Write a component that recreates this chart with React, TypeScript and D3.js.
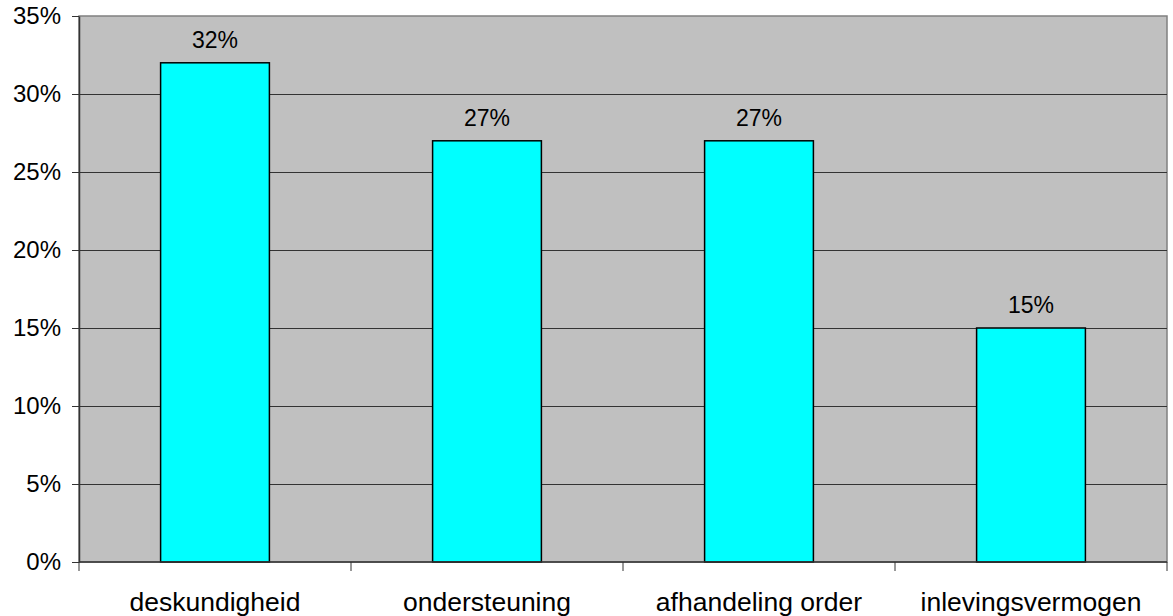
import React, { useEffect, useRef } from "react";
import * as d3 from "d3";

const categories = ["deskundigheid", "ondersteuning", "afhandeling order", "inlevingsvermogen"];
const values = [32, 27, 27, 15];
const yTicks = [0, 5, 10, 15, 20, 25, 30, 35];

function BarChart() {
  const ref = useRef<SVGSVGElement | null>(null);
  const width = 1173;
  const height = 616;
  const marginTop = 16;
  const marginRight = 6;
  const marginBottom = 54;
  const marginLeft = 79;

  useEffect(() => {
    const svg = d3.select(ref.current);
    svg.selectAll("*").remove();

    const x = d3.scaleBand<string>()
      .domain(categories)
      .range([marginLeft, width - marginRight])
      .padding(0);

    const y = d3.scaleLinear([0, 35], [height - marginBottom, marginTop]);

    const font = "'Liberation Sans', Arial, sans-serif";

    // plot background
    svg.append("rect")
      .attr("x", marginLeft)
      .attr("y", marginTop)
      .attr("width", width - marginLeft - marginRight)
      .attr("height", height - marginTop - marginBottom)
      .attr("fill", "#c0c0c0")
      .attr("stroke", "#808080")
      .attr("stroke-width", 1.5);

    // gridlines
    svg.append("g")
      .selectAll("line")
      .data(yTicks.filter(d => d > 0 && d < 35))
      .join("line")
      .attr("x1", marginLeft)
      .attr("x2", width - marginRight)
      .attr("y1", d => Math.round(y(d)) + 0.5)
      .attr("y2", d => Math.round(y(d)) + 0.5)
      .attr("stroke", "#333")
      .attr("stroke-width", 1);

    // bars
    const barW = x.bandwidth() * 0.4;
    svg.append("g")
      .selectAll("rect")
      .data(values)
      .join("rect")
      .attr("x", (d, i) => x(categories[i])! + (x.bandwidth() - barW) / 2)
      .attr("y", d => y(d))
      .attr("width", barW)
      .attr("height", d => y(0) - y(d))
      .attr("fill", "#00ffff")
      .attr("stroke", "#000")
      .attr("stroke-width", 1.5);

    // value labels
    svg.append("g")
      .selectAll("text")
      .data(values)
      .join("text")
      .attr("x", (d, i) => x(categories[i])! + x.bandwidth() / 2)
      .attr("y", d => y(d) - 15)
      .attr("text-anchor", "middle")
      .attr("font-family", font)
      .attr("font-size", 23)
      .attr("fill", "#000")
      .text(d => `${d}%`);

    // y axis
    const yAxis = svg.append("g")
      .attr("transform", `translate(${marginLeft},0)`)
      .call(d3.axisLeft(y).tickValues(yTicks).tickFormat(d => `${d}%`).tickSize(7).tickSizeOuter(0));
    yAxis.select("path.domain").attr("stroke", "#333").attr("stroke-width", 1.5);
    yAxis.selectAll(".tick line").attr("stroke", "#333");
    yAxis.selectAll(".tick text")
      .attr("font-family", font)
      .attr("font-size", 24)
      .attr("fill", "#000")
      .attr("x", -18);

    // x axis
    const bottom = height - marginBottom;
    svg.append("line")
      .attr("x1", marginLeft)
      .attr("x2", width - marginRight)
      .attr("y1", bottom)
      .attr("y2", bottom)
      .attr("stroke", "#333")
      .attr("stroke-width", 1.5);

    const bounds = categories.map(c => x(c)!).concat([width - marginRight]);
    svg.append("g")
      .selectAll("line")
      .data(bounds)
      .join("line")
      .attr("x1", d => d)
      .attr("x2", d => d)
      .attr("y1", bottom)
      .attr("y2", bottom + 9)
      .attr("stroke", "#333")
      .attr("stroke-width", 1);

    svg.append("g")
      .selectAll("text")
      .data(categories)
      .join("text")
      .attr("x", d => x(d)! + x.bandwidth() / 2)
      .attr("y", bottom + 49)
      .attr("text-anchor", "middle")
      .attr("font-family", font)
      .attr("font-size", 26.5)
      .attr("fill", "#000")
      .text(d => d);
  }, []);

  return <svg ref={ref} width={width} height={height} style={{ display: "block" }} />;
}

export default function App() {
  return (
    <div style={{ position: "absolute", left: 0, top: 0 }}>
      <BarChart />
    </div>
  );
}
